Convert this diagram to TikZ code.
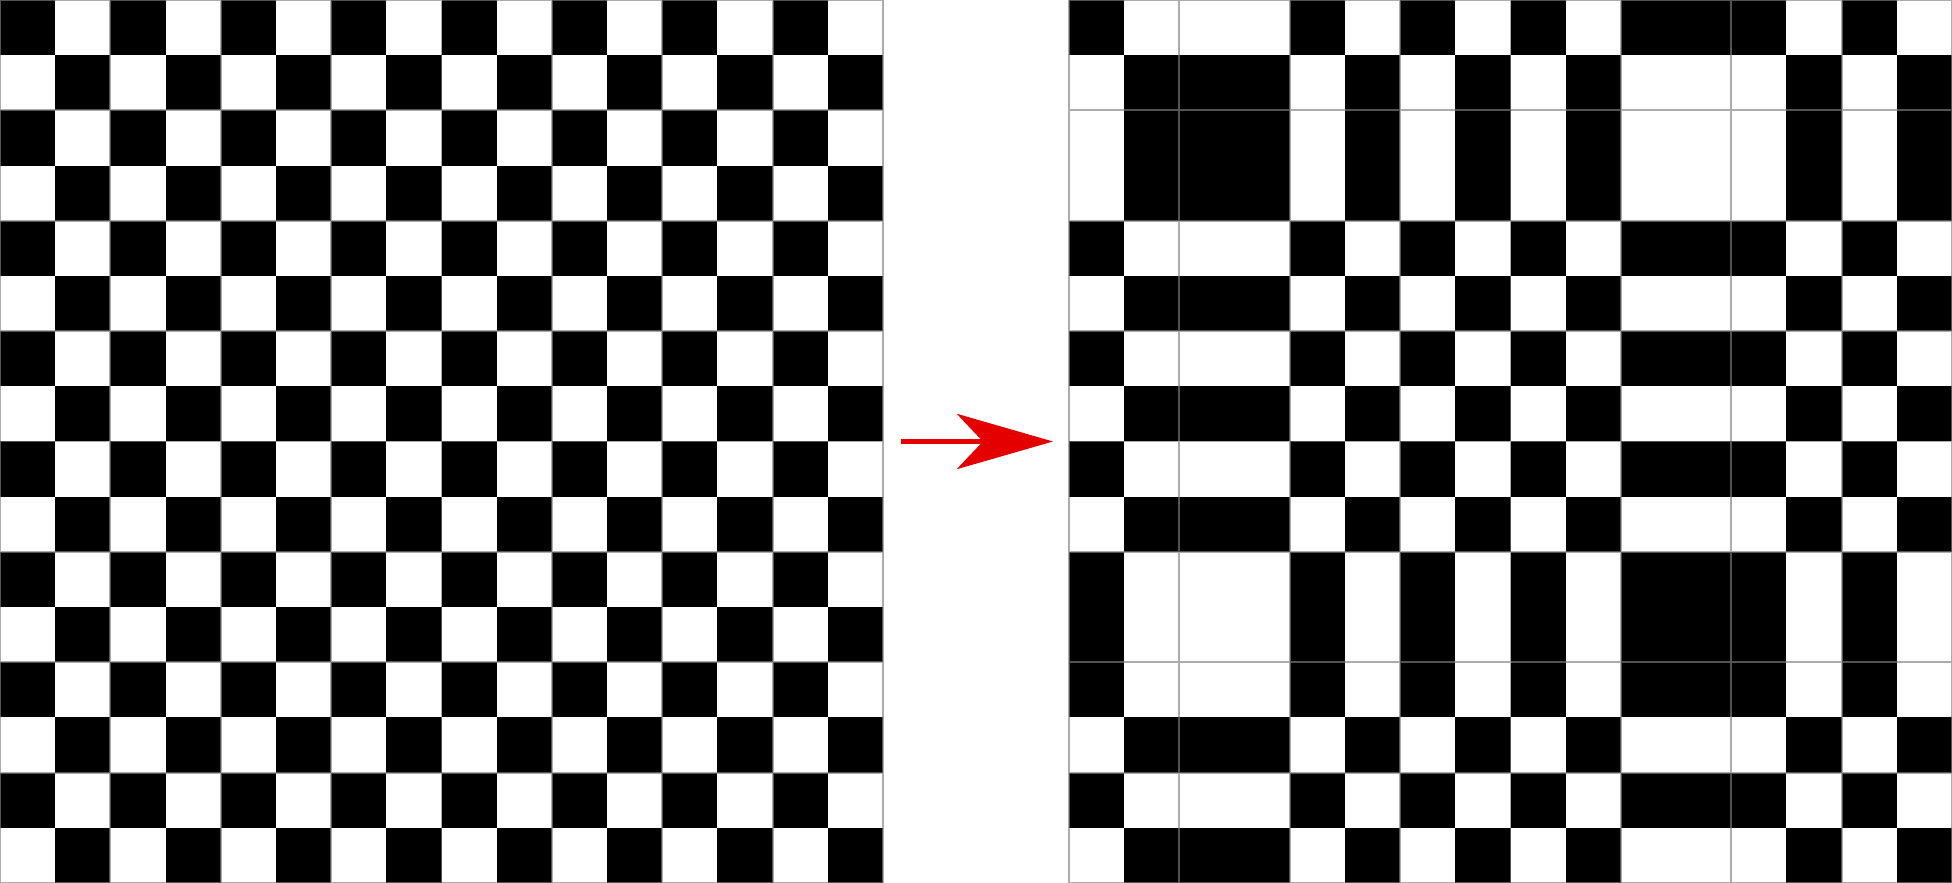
\documentclass[tikz,border=0pt]{standalone}
\usetikzlibrary{positioning,arrows.meta,calc}

\begin{document}
\begin{tikzpicture}[
  x=5mm, y=5mm,
  >={Stealth[length=8.7mm, width=5mm, inset=2.35mm]},
  board/.style={draw=none, minimum size=80mm, inner sep=0pt, outer sep=0pt},
  sq/.style={fill=black},
  gridln/.style={draw=gray, opacity=0.65, line width=0.5pt},
  arr/.style={->, line width=1.3pt, red!90!black},
]

\useasboundingbox (0,0) rectangle (35.37,16);

%% ---------- the two boards ----------
\node[board, anchor=south west] (orig) at (0,0) {};
\node[board, anchor=south west] (perm) at (19.37,0) {};

%% ---------- left: plain checkerboard ----------
\begin{scope}[shift={(orig.south west)}]
  \foreach \r in {0,...,15}
    \foreach \c in {0,...,15} {
      \pgfmathtruncatemacro{\odd}{mod(\r+\c,2)}
      \ifnum\odd=0 \fill[sq] (\c,15-\r) rectangle ++(1,1); \fi
    }
  \draw[gridln] (0,0) grid (16,16);
\end{scope}

%% ---------- right: rows and columns permuted ----------
\begin{scope}[shift={(perm.south west)}]
  \foreach \pr [count=\r from 0] in {0,1,1,1,0,1,0,1,0,1,0,0,0,1,0,1}
    \foreach \pc [count=\c from 0] in {0,1,1,1,0,1,0,1,0,1,0,0,0,1,0,1} {
      \ifnum\pr=\pc \fill[sq] (\c,15-\r) rectangle ++(1,1); \fi
    }
  \draw[gridln] (0,0) grid (16,16);
\end{scope}

%% ---------- arrow ----------
\draw[arr, shorten <=1.65mm, shorten >=1.45mm] (orig) -- (perm);

\end{tikzpicture}
\end{document}
